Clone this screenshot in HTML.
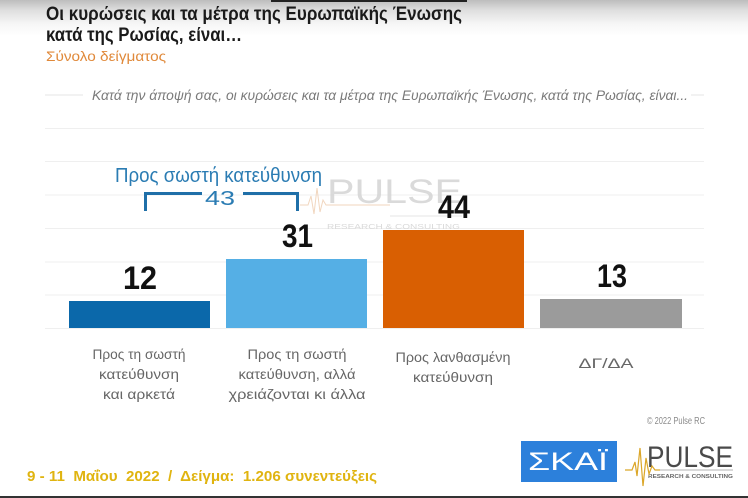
<!DOCTYPE html>
<html><head><meta charset="utf-8"><style>
html,body{margin:0;padding:0;background:#fff;}
body{width:748px;height:498px;overflow:hidden;position:relative;}
.grad{position:absolute;left:0;top:0;width:748px;height:36px;background:linear-gradient(#bdbdbd 0px,#dedede 10px,#f6f6f6 24px,#fff 36px);}
svg{position:absolute;left:0;top:0;}
text{font-family:"Liberation Sans","DejaVu Sans",sans-serif;}
</style></head><body>
<div class="grad"></div>
<svg width="748" height="498" viewBox="0 0 748 498" xmlns="http://www.w3.org/2000/svg">
<rect x="271" y="0" width="196" height="2" fill="#222"/>
<text x="46" y="20" font-size="19.5" font-weight="bold" fill="#1a1a1a" textLength="416" lengthAdjust="spacingAndGlyphs">Οι κυρώσεις και τα μέτρα της Ευρωπαϊκής Ένωσης</text>
<text x="46" y="41" font-size="19.5" font-weight="bold" fill="#1a1a1a" textLength="196" lengthAdjust="spacingAndGlyphs">κατά της Ρωσίας, είναι…</text>
<text x="46" y="61" font-size="14" fill="#e0893a" textLength="120" lengthAdjust="spacingAndGlyphs">Σύνολο δείγματος</text>

<line x1="45" y1="95" x2="83" y2="95" stroke="#e6e6e6" stroke-width="1"/>
<line x1="691" y1="95" x2="704" y2="95" stroke="#e6e6e6" stroke-width="1"/>
<text x="92" y="100" font-size="13.5" font-style="italic" fill="#7a7a7a" textLength="596" lengthAdjust="spacingAndGlyphs">Κατά την άποψή σας, οι κυρώσεις και τα μέτρα της Ευρωπαϊκής Ένωσης, κατά της Ρωσίας, είναι...</text>

<g stroke="#efefef" stroke-width="1">
<line x1="45" y1="128.5" x2="704" y2="128.5"/>
<line x1="45" y1="161.5" x2="704" y2="161.5"/>
<line x1="45" y1="195" x2="704" y2="195"/>
<line x1="45" y1="228.5" x2="704" y2="228.5"/>
<line x1="45" y1="262" x2="704" y2="262"/>
<line x1="45" y1="295" x2="704" y2="295"/>
<line x1="45" y1="328.5" x2="704" y2="328.5"/>
</g>

<!-- watermark -->
<g opacity="0.9">
<text x="327" y="203" font-size="34" fill="#d6d6d6" textLength="135" lengthAdjust="spacingAndGlyphs">PULSE</text>
<line x1="390" y1="216" x2="462" y2="216" stroke="#e2e2e2" stroke-width="1"/>
<text x="327" y="229" font-size="7" fill="#d6d6d6" textLength="133" lengthAdjust="spacingAndGlyphs">RESEARCH &amp; CONSULTING</text>
<polyline points="300,205 308,205 311,196 314,214 317,188 320,212 323,200 326,205 390,205" fill="none" stroke="#f0d2b8" stroke-width="1"/>
</g>

<!-- bars -->
<rect x="69" y="301" width="141" height="27" fill="#0b68aa"/>
<rect x="226" y="259" width="141" height="69" fill="#55afe5"/>
<rect x="383" y="230" width="141" height="98" fill="#d95f02"/>
<rect x="540" y="299" width="142" height="29" fill="#9b9b9b"/>

<g font-weight="bold" fill="#111" font-size="32">
<text x="123" y="289" textLength="34" lengthAdjust="spacingAndGlyphs">12</text>
<text x="282" y="247" textLength="31" lengthAdjust="spacingAndGlyphs">31</text>
<text x="438" y="218" textLength="32" lengthAdjust="spacingAndGlyphs">44</text>
<text x="597" y="287" textLength="30" lengthAdjust="spacingAndGlyphs">13</text>
</g>

<!-- annotation -->
<text x="115" y="182" font-size="20" fill="#2b7cb3" textLength="207" lengthAdjust="spacingAndGlyphs">Προς σωστή κατεύθυνση</text>
<g stroke="#1f6fa8" stroke-width="3" fill="none">
<polyline points="145.5,211 145.5,193.5 202,193.5"/>
<polyline points="243,193.5 297.5,193.5 297.5,211"/>
</g>
<text x="205" y="205" font-size="20.5" fill="#2b7cb3" textLength="30" lengthAdjust="spacingAndGlyphs">43</text>

<!-- category labels -->
<g font-size="14" fill="#666" text-anchor="middle">
<text x="139" y="359" textLength="93" lengthAdjust="spacingAndGlyphs">Προς τη σωστή</text>
<text x="139" y="379" textLength="80" lengthAdjust="spacingAndGlyphs">κατεύθυνση</text>
<text x="139" y="399" textLength="72" lengthAdjust="spacingAndGlyphs">και αρκετά</text>
<text x="297" y="359" textLength="99" lengthAdjust="spacingAndGlyphs">Προς τη σωστή</text>
<text x="297" y="379" textLength="117" lengthAdjust="spacingAndGlyphs">κατεύθυνση, αλλά</text>
<text x="297" y="399" textLength="137" lengthAdjust="spacingAndGlyphs">χρειάζονται κι άλλα</text>
<text x="453" y="362" textLength="115" lengthAdjust="spacingAndGlyphs">Προς λανθασμένη</text>
<text x="453" y="382" textLength="80" lengthAdjust="spacingAndGlyphs">κατεύθυνση</text>
<text x="606" y="368" textLength="55" lengthAdjust="spacingAndGlyphs">ΔΓ/ΔΑ</text>
</g>

<text x="647" y="424" font-size="10.5" fill="#8a8a8a" textLength="58" lengthAdjust="spacingAndGlyphs">© 2022 Pulse RC</text>

<!-- footer -->
<text x="27" y="481" font-size="15" font-weight="bold" fill="#e0b410" textLength="350" lengthAdjust="spacingAndGlyphs" xml:space="preserve">9 - 11  Μαΐου  2022  /  Δείγμα:  1.206 συνεντεύξεις</text>

<!-- SKAI logo -->
<rect x="521" y="441" width="96" height="41" fill="#2c80db"/>
<text x="528" y="470" font-size="25" fill="#fff" textLength="80" lengthAdjust="spacingAndGlyphs">ΣΚΑΪ</text>

<!-- PULSE logo -->
<text x="647" y="467" font-size="30" fill="#4a4a4a" textLength="86" lengthAdjust="spacingAndGlyphs">PULSE</text>
<line x1="655" y1="470" x2="733" y2="470" stroke="#9a9a9a" stroke-width="0.8"/>
<text x="648" y="478" font-size="5.5" font-weight="bold" fill="#666" textLength="85" lengthAdjust="spacingAndGlyphs">RESEARCH &amp; CONSULTING</text>
<polyline points="625,470 632,470 635,462 637,476 640,448 643,486 646,458 649,474 652,466 655,470 660,470" fill="none" stroke="#dba628" stroke-width="1.2"/>

<rect x="0" y="496" width="748" height="2" fill="#333"/>
</svg>
</body></html>
